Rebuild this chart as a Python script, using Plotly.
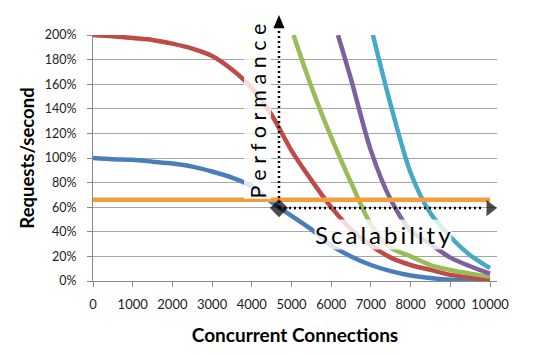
import plotly.graph_objects as go

# ---- data ----
blue_x = [0, 500, 1000, 1500, 2000, 2500, 3000, 3500, 4000, 4500, 5000, 5500, 6000,
          6500, 7000, 7500, 8000, 8500, 9000, 9500, 10000]
blue_y = [100, 99, 98.5, 97, 95.5, 93, 89, 84, 77, 64, 53, 42, 29, 20, 13, 8, 4.5,
          2.5, 1, 0.5, 0]

red_x = [0, 500, 1000, 1500, 2000, 2500, 3000, 3500, 4000, 4500, 5000, 5500, 6000,
         6500, 7000, 7500, 8000, 8500, 9000, 9500, 10000]
red_y = [200, 199, 197.5, 196, 193, 189, 183, 172, 157, 135, 106, 82, 60, 42, 29, 19,
         13, 9, 5, 3, 1]

green_x = [5050, 5500, 6000, 6500, 7000, 7500, 8000, 8500, 9000, 9500, 10000]
green_y = [200, 158, 117, 80, 46, 27, 20, 13, 9, 6, 3.5]

purple_x = [6170, 6500, 7000, 7500, 8000, 8500, 9000, 9500, 10000]
purple_y = [200, 164, 106, 66, 41, 30, 19, 12, 6]

cyan_x = [7050, 7500, 8000, 8500, 9000, 9500, 10000]
cyan_y = [200, 143, 88, 55, 36, 21, 10.5]

orange_x = [0, 10000]
orange_y = [66, 66]

x_ticks = [0, 1000, 2000, 3000, 4000, 5000, 6000, 7000, 8000, 9000, 10000]
y_ticks = [0, 20, 40, 60, 80, 100, 120, 140, 160, 180, 200]
y_labels = [f"{v}%" for v in y_ticks]

# annotation anchor (diamond) and arrow ends
origin_x, origin_y = 4685, 59.3
scal_end_x = 10000
perf_line_top = 1.03      # paper units (above plot area)
perf_tip = 1.081
perf_half_w = 140         # x units

FONT = "Lato"

fig = go.Figure()
series = [
    (blue_x, blue_y, "#4a7ebb"),
    (red_x, red_y, "#be4b48"),
    (green_x, green_y, "#9bbb59"),
    (purple_x, purple_y, "#7d60a0"),
    (cyan_x, cyan_y, "#46aac5"),
    (orange_x, orange_y, "#f59d3d"),
]
for xs, ys, c in series:
    fig.add_trace(go.Scatter(x=xs, y=ys, mode="lines",
                             line=dict(color=c, width=4.5, shape="spline", smoothing=0.8),
                             hoverinfo="skip"))

# dotted arrows
fig.add_shape(type="line", xref="x", yref="y", x0=origin_x, x1=scal_end_x - 150,
              y0=origin_y, y1=origin_y, line=dict(color="black", width=2.5, dash="2px,3px"))
fig.add_shape(type="line", xref="x", yref="paper", x0=origin_x, x1=origin_x,
              y0=origin_y / 200, y1=perf_line_top,
              line=dict(color="black", width=2.5, dash="2px,3px"))
fig.add_shape(type="path", xref="x", yref="paper",
              path=(f"M {origin_x - perf_half_w},{perf_line_top - 0.003} "
                    f"L {origin_x},{perf_tip} L {origin_x + perf_half_w},{perf_line_top - 0.003} Z"),
              fillcolor="black", line=dict(width=0))

# diamond and right arrowhead
fig.add_trace(go.Scatter(
    x=[origin_x, scal_end_x], y=[origin_y, origin_y],
    mode="markers", cliponaxis=False, hoverinfo="skip",
    marker=dict(symbol=["diamond", "triangle-right"],
                size=[14, 14], color="black", line=dict(width=0))))

# text labels
fig.add_annotation(x=4131, y=0.689, xref="x", yref="paper",
                   xanchor="center", yanchor="middle",
                   text="P e r f o r m a n c e", textangle=-90, showarrow=False,
                   font=dict(family=FONT, size=21.5, color="black"),
                   bgcolor="rgba(255,255,255,0.8)", borderpad=0)
fig.add_annotation(x=7305, y=38, xref="x", yref="y",
                   xanchor="center", yanchor="middle",
                   text="S\u2009c\u2009a\u2009l\u2009a\u2009b\u2009i\u2009l\u2009i\u2009t\u2009y",
                   showarrow=False,
                   font=dict(family=FONT, size=24, color="black"),
                   bgcolor="rgba(255,255,255,0.8)", borderpad=0)

# page body has an 8px default margin, so the figure is 8px smaller and left/top margins shifted
fig.update_layout(
    width=525, height=347,
    margin=dict(l=85, r=36, t=27, b=74, autoexpand=False),
    paper_bgcolor="white", plot_bgcolor="white",
    showlegend=False,
    font=dict(family=FONT, size=13, color="#222"),
)
fig.update_xaxes(
    range=[0, 10176], tickvals=x_ticks, ticktext=[str(v) for v in x_ticks],
    automargin=False,
    showgrid=False, zeroline=False, showline=True, linecolor="#888", linewidth=1,
    ticks="outside", ticklen=5, tickcolor="#888", ticklabelstandoff=6,
    title=dict(text="<b>Concurrent Connections</b>", font=dict(family=FONT, size=19, color="black"),
               standoff=18),
)
fig.update_yaxes(
    range=[0, 200], tickvals=y_ticks, ticktext=y_labels,
    automargin=False,
    showgrid=True, gridcolor="#a6a6a6", gridwidth=1, zeroline=False,
    showline=True, linecolor="#888", linewidth=1,
    ticks="outside", ticklen=5, tickcolor="#888", ticklabelstandoff=8,
    tickfont=dict(size=12.5),
    title=dict(text="<b>Requests/second</b>", font=dict(family=FONT, size=18.5, color="black"),
               standoff=5),
)

fig.write_html("out.html")
